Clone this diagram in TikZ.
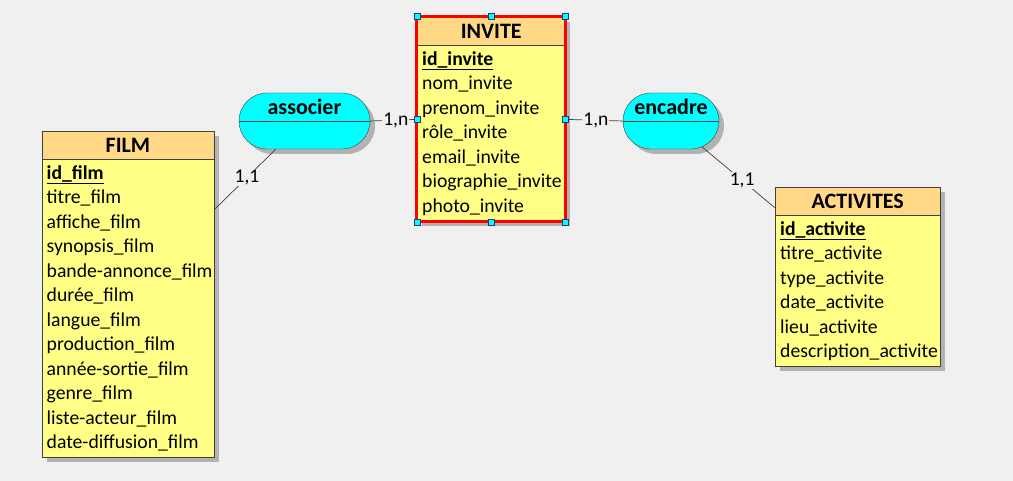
\documentclass[tikz,border=0pt]{standalone}
\usepackage{fontspec}
\setmainfont{Carlito}
\usetikzlibrary{positioning,fit,shapes.misc,shadows}
\definecolor{fond}{HTML}{F0F0F0}
\definecolor{entete}{HTML}{FFD985}
\definecolor{corps}{HTML}{FFFF85}
\definecolor{trait}{HTML}{404040}
\definecolor{assoc}{HTML}{00FFFF}
\definecolor{bordpoignee}{HTML}{1F3A7A}
\tikzset{
	ombre/.style={fill=black!30, draw=none},
	titreentite/.style={draw=trait, fill=entete, minimum height=28, inner sep=0pt, font=\fontsize{22}{26}\selectfont\bfseries},
	corpsentite/.style={draw=trait, fill=corps, inner xsep=5pt, inner ysep=2pt, align=left, font=\fontsize{19.7}{24.5}\selectfont, execute at begin node={\exhyphenpenalty=10000 \hyphenpenalty=10000 \hbadness=10000 \hfuzz=10pt}},
	association/.style={rounded rectangle, draw=trait, fill=assoc, inner sep=0pt, minimum height=56, drop shadow={shadow xshift=5pt, shadow yshift=-5pt, fill=black!30, opacity=1}},
	nomassoc/.style={inner sep=0pt, font=\fontsize{22}{26}\selectfont\bfseries},
	lien/.style={draw=trait, line width=0.7pt},
	card/.style={fill=fond, inner sep=1pt, font=\fontsize{19.5}{22}\selectfont},
	selection/.style={draw=red, line width=3pt},
	poignee/.style={draw=bordpoignee, fill=assoc, line width=0.6pt, minimum size=6, inner sep=0pt}
}
\newcommand{\entite}[7]{\fill[ombre] (#2+5,#3-5) rectangle (#2+#4+5,#3-33-#5);
					\node[titreentite, minimum width=#4, anchor=north west] (#1titre) at (#2,#3) {#6};
					\pgfmathsetmacro{\largeur}{#4-10}
					\node[corpsentite, minimum width=#4, minimum height=#5, text width=\largeur pt, anchor=north west] (#1corps) at (#1titre.south west) {#7};
					\node[fit=(#1titre)(#1corps), inner sep=0pt] (#1) {};}

\begin{document}
\begin{tikzpicture}[x=1pt, y=1pt]

					\fill[fond] (0,0) rectangle (1013,481);

					\entite{film}{41.5}{350}{172.5}{298}{FILM}{\underline{\textbf{id\_film}}\\titre\_film\\affiche\_film\\synopsis\_film\\bande\mbox{-}annonce\_film\\durée\_film\\langue\_film\\production\_film\\année\mbox{-}sortie\_film\\genre\_film\\liste\mbox{-}acteur\_film\\date\mbox{-}diffusion\_film}

					\entite{invite}{417}{464}{148}{176}{INVITE}{\underline{\textbf{id\_invite}}\\nom\_invite\\prenom\_invite\\rôle\_invite\\email\_invite\\biographie\_invite\\photo\_invite}

					\entite{activites}{775}{294}{165}{151}{ACTIVITES}{\underline{\textbf{id\_activite}}\\titre\_activite\\type\_activite\\date\_activite\\lieu\_activite\\description\_activite}

					\node[association, minimum width=131] (associer) at (304.5,360) {};
					\draw[lien] (associer.west) -- (associer.east);
					\node[nomassoc] (nomassocier) at ([yshift=14pt]associer.center) {associer};

					\node[association, minimum width=96] (encadre) at (671,360) {};
					\draw[lien] (encadre.west) -- (encadre.east);
					\node[nomassoc] (nomencadre) at ([yshift=14pt]encadre.center) {encadre};

					\draw[lien] (associer.east) -- node[card, pos=.55] (card1) {1,n} (invite.west);
					\draw[lien] (invite.east) -- node[card, pos=.53] (card2) {1,n} (encadre.west);
					\draw[lien] (associer) -- node[card, pos=.47] (card3) {1,1} (film);
					\draw[lien] (encadre) -- node[card, pos=.55] (card4) {1,1} (activites);

					\draw[selection] (invite.north west) rectangle (invite.south east);
					\foreach \a [count=\i] in {north west,north,north east,east,south east,south,south west,west}
						\node[poignee] (poignee\i) at (invite.\a) {};

\end{tikzpicture}
\end{document}
